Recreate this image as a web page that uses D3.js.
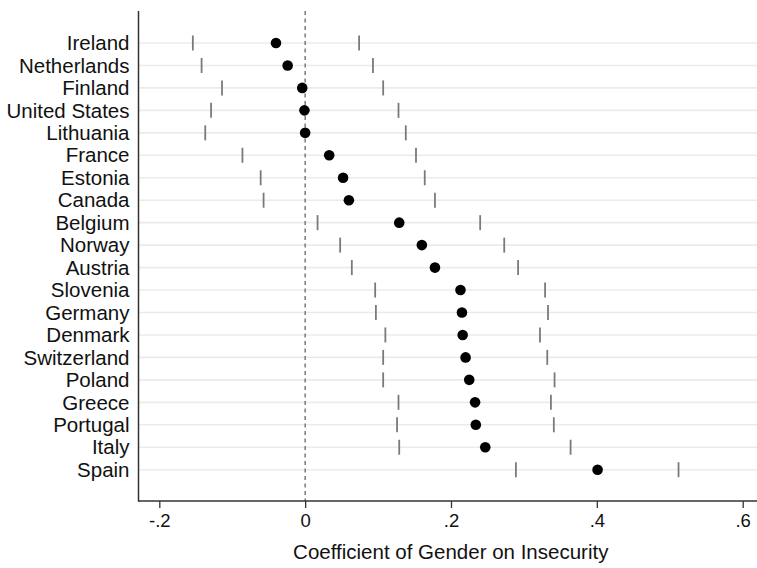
<!DOCTYPE html>
<html>
<head>
<meta charset="utf-8">
<script src="https://cdn.jsdelivr.net/npm/d3@7"></script>
<style>
  html, body { margin: 0; padding: 0; background: #fff; }
  svg { display: block; font-family: "Liberation Sans", Arial, Helvetica, sans-serif; }
</style>
</head>
<body>
<svg id="chart"></svg>
<script>
// Country order, top to bottom
const countries = [
  'Ireland', 'Netherlands', 'Finland', 'United States', 'Lithuania',
  'France', 'Estonia', 'Canada', 'Belgium', 'Norway', 'Austria',
  'Slovenia', 'Germany', 'Denmark', 'Switzerland', 'Poland',
  'Greece', 'Portugal', 'Italy', 'Spain'
];

// Point estimates
const coef = [
  -0.040, -0.024, -0.004, -0.001, 0.000,
  0.033, 0.052, 0.060, 0.129, 0.160, 0.178,
  0.213, 0.215, 0.216, 0.220, 0.225,
  0.233, 0.234, 0.247, 0.401
];

// Confidence interval bounds
const ciLow = [
  -0.154, -0.142, -0.114, -0.129, -0.137,
  -0.086, -0.061, -0.057, 0.017, 0.048, 0.064,
  0.096, 0.097, 0.110, 0.107, 0.107,
  0.128, 0.126, 0.129, 0.289
];
const ciHigh = [
  0.074, 0.093, 0.107, 0.128, 0.138,
  0.152, 0.164, 0.178, 0.240, 0.273, 0.292,
  0.329, 0.333, 0.322, 0.332, 0.342,
  0.337, 0.341, 0.364, 0.512
];

const xTicks = [-0.2, 0, 0.2, 0.4, 0.6];
const xTitle = 'Coefficient of Gender on Insecurity';

const width = 757;
const height = 568;
const axisLeft = 138.5;
const axisBottom = 501;
const plotTop = 11;

const svg = d3.select('#chart')
  .attr('width', width)
  .attr('height', height);

const x = d3.scaleLinear()
  .domain([-0.2, 0.6])
  .range([159.3, 742.7]);

// rows sit at positions 1..20
const y = d3.scaleLinear()
  .domain([1, 20])
  .range([43, 469.7]);

const rows = countries.map((name, i) => ({
  name, pos: i + 1, b: coef[i], lo: ciLow[i], hi: ciHigh[i]
}));

// grid lines
svg.append('g')
  .selectAll('line')
  .data(rows)
  .join('line')
  .attr('x1', axisLeft)
  .attr('x2', width)
  .attr('y1', d => y(d.pos))
  .attr('y2', d => y(d.pos))
  .attr('stroke', '#ebebeb')
  .attr('stroke-width', 1.6);

// zero reference line
svg.append('line')
  .attr('x1', x(0)).attr('x2', x(0))
  .attr('y1', plotTop).attr('y2', axisBottom)
  .attr('stroke', '#666')
  .attr('stroke-width', 1.3)
  .attr('stroke-dasharray', '4,3.5');

// CI end markers
const ciG = svg.append('g');
['lo', 'hi'].forEach(k => {
  ciG.selectAll(`line.ci-${k}`)
    .data(rows)
    .join('line')
    .attr('class', `ci-${k}`)
    .attr('x1', d => x(d[k]))
    .attr('x2', d => x(d[k]))
    .attr('y1', d => y(d.pos) - 7.5)
    .attr('y2', d => y(d.pos) + 7.5)
    .attr('stroke', '#7a7a7a')
    .attr('stroke-width', 1.8);
});

// point estimates
svg.append('g')
  .selectAll('circle')
  .data(rows)
  .join('circle')
  .attr('cx', d => x(d.b))
  .attr('cy', d => y(d.pos))
  .attr('r', 5.3)
  .attr('fill', '#000');

// y labels
svg.append('g')
  .selectAll('text')
  .data(rows)
  .join('text')
  .attr('x', axisLeft - 9)
  .attr('y', d => y(d.pos))
  .attr('dy', '0.35em')
  .attr('text-anchor', 'end')
  .attr('font-size', 20.5)
  .attr('fill', '#111')
  .text(d => d.name);

// x axis
const xAxis = d3.axisBottom(x)
  .tickValues(xTicks)
  .tickSize(7)
  .tickPadding(6)
  .tickFormat(d => d === 0 ? '0' : String(d).replace('0.', '.'));

const gx = svg.append('g')
  .attr('transform', `translate(0,${axisBottom})`)
  .call(xAxis);
gx.select('.domain').remove();
gx.selectAll('.tick line').attr('stroke', '#333').attr('stroke-width', 1.3);
gx.selectAll('.tick text')
  .attr('font-size', 18.5)
  .attr('fill', '#111')
  .attr('font-family', '"Liberation Sans", Arial, sans-serif');

// axis lines
svg.append('line')
  .attr('x1', axisLeft).attr('x2', width)
  .attr('y1', axisBottom).attr('y2', axisBottom)
  .attr('stroke', '#333').attr('stroke-width', 1.5);
svg.append('line')
  .attr('x1', axisLeft).attr('x2', axisLeft)
  .attr('y1', plotTop).attr('y2', axisBottom + 0.75)
  .attr('stroke', '#333').attr('stroke-width', 1.5);

// x title
svg.append('text')
  .attr('x', (axisLeft + width) / 2 + 3)
  .attr('y', 559)
  .attr('text-anchor', 'middle')
  .attr('font-size', 20.5)
  .attr('fill', '#111')
  .text(xTitle);
</script>
</body>
</html>
